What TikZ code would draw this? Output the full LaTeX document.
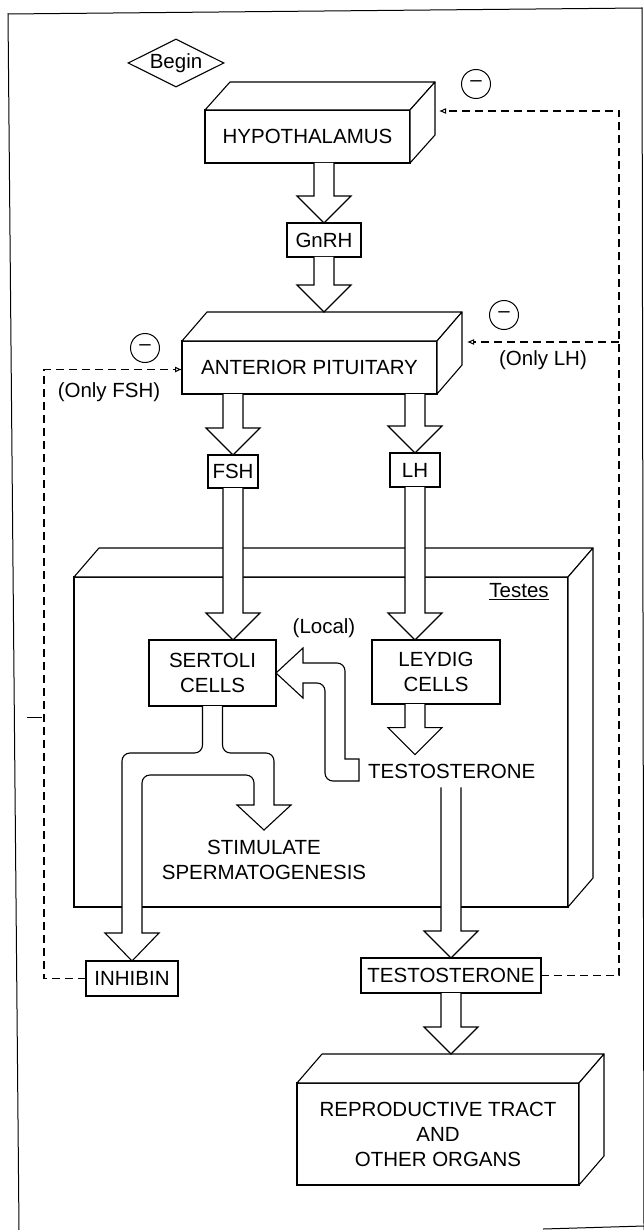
\documentclass[tikz,border=0pt]{standalone}
\usepackage{fontspec}
\setmainfont{Liberation Sans}
\usetikzlibrary{arrows.meta,shapes.geometric,calc}
\newcommand\lab{\fontsize{20.5}{25}\selectfont}
\newcommand\depthfaces[2]{%
  \draw[bl, fill=white, line join=round] (#1.north west) -- ++(25,-#2) -- ($(#1.north east)+(25,-#2)$) -- (#1.north east) -- cycle;
  \draw[bl, fill=white, line join=round] (#1.north east) -- ++(25,-#2) -- ($(#1.south east)+(25,-#2)$) -- (#1.south east) -- cycle;
}
\newcommand\fatarrow[3]{%
  \draw[fatline] let \p1=(#1), \p2=(#2), \p3=(#3) in
    (\x1-10pt,\y2) -- (\x1-10pt,\y3+27pt) -- (\x1-27pt,\y3+27pt) -- (\x1,\y3)
    -- (\x1+27pt,\y3+27pt) -- (\x1+10pt,\y3+27pt) -- (\x1+10pt,\y2);
}
\tikzset{
  bl/.style={line width=1.1pt, draw=black},
  box/.style={bl, rectangle, fill=white, inner sep=0pt, outer sep=0pt, align=center, font=\lab},
  fatline/.style={bl, fill=white, line join=miter},
  fb/.style={line width=1.6pt, dash pattern=on 8pt off 5pt},
  minusc/.style={circle, draw, line width=1pt, minimum size=29pt, inner sep=0pt, font=\lab},
  txt/.style={font=\lab, inner sep=0pt, align=center},
  tipo/.style={-{Latex[open,length=7pt,width=6pt,line width=1pt]}}
}
\begin{document}
\begin{tikzpicture}[x=1pt,y=-1pt]
\useasboundingbox (0,0) rectangle (644,1230);
% frame
\draw[line width=1pt] (19,1230) -- (8,14) -- (642,8) -- (644,1230);
\draw[line width=1pt] (543,1229) -- (644,1226);
\draw[line width=0.7pt] (27,717) -- (42,717);
\draw[line width=0.7pt] (556,561) -- (565,561);

% begin
\node[draw, diamond, aspect=2, bl, minimum width=96pt, minimum height=48pt, inner sep=0pt, font=\lab] (begin) at (176,63) {Begin};

% hypothalamus
\node[box, minimum width=205pt, minimum height=53pt] (hyp) at (307.5,136.5) {HYPOTHALAMUS};
\depthfaces{hyp}{28}
\node[box, minimum width=74pt, minimum height=34pt] (gnrh) at (324,240) {GnRH};

% anterior pituitary
\node[box, minimum width=255pt, minimum height=53pt] (ap) at (309.5,367.5) {ANTERIOR PITUITARY};
\depthfaces{ap}{29}
\coordinate (aptop) at ($(ap.north)+(0,-29)$);
\node[box, minimum width=50pt, minimum height=33pt] (fsh) at (233,471.5) {FSH};
\node[box, minimum width=50pt, minimum height=34pt] (lh) at (415,470) {LH};

% testes
\node[bl, rectangle, fill=white, inner sep=0pt, outer sep=0pt, minimum width=494pt, minimum height=330pt] (testes) at (321,742) {};
\depthfaces{testes}{29}
\node[txt] (testeslab) at (519,592) {\underline{Testes}};

\node[box, minimum width=127pt, minimum height=66pt] (sertoli) at (212.5,673) {SERTOLI\\CELLS};
\node[box, minimum width=128pt, minimum height=64pt] (leydig) at (436,672) {LEYDIG\\CELLS};
\node[txt, inner ysep=9pt, anchor=west] (testo1) at (368,771) {TESTOSTERONE};
\node[txt, anchor=north] (stim) at (264,840) {STIMULATE\\SPERMATOGENESIS};
\node[txt] (local) at (324,628) {(Local)};

\node[box, minimum width=92pt, minimum height=35pt] (inhibin) at (132,978.5) {INHIBIN};
\node[box, minimum width=180pt, minimum height=35pt] (testo2) at (451,975.5) {TESTOSTERONE};

% reproductive tract
\node[box, minimum width=282pt, minimum height=102pt] (repro) at (438,1134) {REPRODUCTIVE TRACT\\AND\\OTHER ORGANS};
\depthfaces{repro}{29}
\coordinate (reprotop) at ($(repro.north)+(0,-29)$);

% block arrows
\fatarrow{gnrh}{hyp.south}{gnrh.north}
\fatarrow{gnrh}{gnrh.south}{aptop}
\fatarrow{fsh}{ap.south}{fsh.north}
\fatarrow{lh}{ap.south}{lh.north}
\fatarrow{fsh}{fsh.south}{sertoli.north}
\fatarrow{lh}{lh.south}{leydig.north}
\fatarrow{lh}{leydig.south}{testo1.north}
\fatarrow{testo2}{testo1.south}{testo2.north}
\fatarrow{testo2}{testo2.south}{reprotop}

% sertoli branching arrow
\draw[fatline] let \p1=(sertoli.south), \p2=(inhibin.north), \p3=(stim.north) in
 (\x1-10pt,\y1) -- (\x1-10pt,\y1-30pt) [rounded corners=8pt] -- (\x1-10pt,\y1-47pt)
 -- (\x2-10pt,\y1-47pt) -- (\x2-10pt,\y1-100pt) [sharp corners]
 -- (\x2-10pt,\y2+28pt) -- (\x2-27pt,\y2+28pt) -- (\x2,\y2) -- (\x2+27pt,\y2+28pt)
 -- (\x2+10pt,\y2+28pt) -- (\x2+10pt,\y1-100pt) [rounded corners=8pt]
 -- (\x2+10pt,\y1-69pt) -- (\x3-10pt,\y1-69pt) -- (\x3-10pt,\y1-87pt) [sharp corners]
 -- (\x3-10pt,\y3+35pt) -- (\x3-27pt,\y3+35pt) -- (\x3,\y3+10pt) -- (\x3+27pt,\y3+35pt)
 -- (\x3+10pt,\y3+35pt) -- (\x3+10pt,\y1-87pt) [rounded corners=8pt]
 -- (\x3+10pt,\y1-47pt) -- (\x1+10pt,\y1-47pt) -- (\x1+10pt,\y1-30pt) [sharp corners]
 -- (\x1+10pt,\y1);

% local testosterone arrow
\draw[fatline] let \p1=(testo1.west), \p2=(sertoli.east) in
 (\x1-9pt,\y1+12pt) -- (\x1-23pt,\y1+12pt) -- (\x1-23pt,\y1+40pt) [rounded corners=8pt]
 -- (\x1-23pt,\y2+10pt) -- (\x2+40pt,\y2+10pt) [sharp corners]
 -- (\x2+27pt,\y2+10pt) -- (\x2+27pt,\y2+25pt) -- (\x2,\y2) -- (\x2+27pt,\y2-25pt)
 -- (\x2+27pt,\y2-10pt) -- (\x2+36pt,\y2-10pt) [rounded corners=8pt]
 -- (\x1-43pt,\y2-10pt) -- (\x1-43pt,\y1-10pt) -- (\x1-25pt,\y1-10pt) [sharp corners]
 -- (\x1-9pt,\y1-10pt) -- cycle;

% feedback
\coordinate (hypin) at ($(hyp.north east)+(29,1)$);
\coordinate (apin) at ($(ap.north east)+(30,1)$);
\coordinate (rtop) at (619,111);
\coordinate (lcorner) at ($(ap.west)+(-138,2)$);
\draw[fb, tipo] (testo2.east) -| (rtop) -- (hypin);
\draw[fb, tipo] (rtop |- apin) -- (apin);
\draw[fb, tipo] (inhibin.west) -| (lcorner) -- ($(ap.west)+(0,2)$);

\node[minusc] (m1) at (476,84) {–};
\node[minusc] (m2) at (504,315) {–};
\node[minusc] (m3) at (145,348) {–};
\node[txt] (onlylh) at (543,360) {(Only LH)};
\node[txt] (onlyfsh) at (109,392) {(Only FSH)};
\end{tikzpicture}
\end{document}
